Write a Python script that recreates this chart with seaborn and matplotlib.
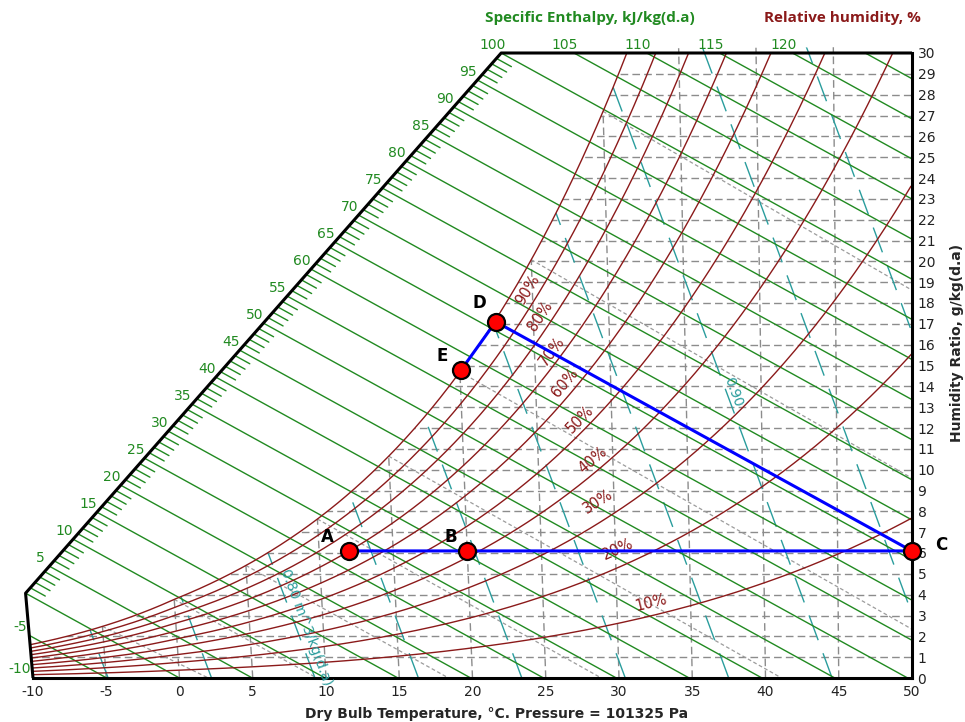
import numpy as np
import pandas as pd
import seaborn as sns
import matplotlib.pyplot as plt
from matplotlib.patches import Polygon

# chart data
pressure_kpa = 101.325
temp_ticks = list(range(-10, 51, 5))
w_ticks = list(range(0, 31))
rh_levels = [10, 20, 30, 40, 50, 60, 70, 80, 90, 100]
rh_labels = ['10%', '20%', '30%', '40%', '50%', '60%', '70%', '80%', '90%']
enthalpy_levels = list(range(-10, 126, 5))
enthalpy_top_labels = [100, 105, 110, 115, 120]
volume_levels = [0.76, 0.78, 0.80, 0.82, 0.84, 0.86, 0.88, 0.90, 0.92, 0.94]
wetbulb_levels = [-5, 0, 5, 10, 15, 20, 25, 30]
grid_temps = list(range(-5, 50, 5))
grid_w = list(range(1, 30))

state_names = ['A', 'B', 'C', 'D', 'E']
state_temp = [12.0, 20.0, 50.0, 22.5, 20.1]
state_w = [6.1, 6.1, 6.1, 17.1, 14.8]

GREEN = '#218a21'
RED = '#8b1a1a'
TEAL = '#2a9d9d'
GREY = '#8c8c8c'


def p_sat(t):
    t = np.asarray(t, float)
    water = 0.61121 * np.exp((18.678 - t / 234.5) * (t / (257.14 + t)))
    ice = 0.61115 * np.exp((23.036 - t / 333.7) * (t / (279.82 + t)))
    return np.where(t >= 0, water, ice)


def w_from_rh(t, rh):
    pw = rh / 100.0 * p_sat(t)
    return 622.0 * pw / (pressure_kpa - pw)


def chart_x(t, w):
    # dry bulb lines on this chart lean a little to the left
    return t + w * (2501 + 1.86 * t - 2597) / 1006.0


def h_line_x(h, w):
    return (h - 2.597 * w) / 1.006


def diag_point(h):
    w = 4.07 + 25.93 * h / 100.0
    return h_line_x(h, w), w


sns.set_style("white")
plt.rcParams['font.family'] = ['DejaVu Sans']
plt.rcParams['axes.unicode_minus'] = False

fig = plt.figure(figsize=(9.65, 7.22), dpi=100)
ax = fig.add_axes([33 / 965, 44 / 722, 879 / 965, 625 / 722])
ax.set_xlim(-10, 50)
ax.set_ylim(0, 30)

x0, w0 = diag_point(0)
x1, w1 = diag_point(100)
chart_clip = Polygon([(-10, 0), (50, 0), (50, 30), (x1, w1), (x0, w0)],
                     closed=True, transform=ax.transData)

t_sat = np.linspace(-10, 33, 800)
w_sat = w_from_rh(t_sat, 100)
keep = w_sat <= 30.3
sat_verts = [(-10, 0)] + list(zip(chart_x(t_sat[keep], w_sat[keep]), w_sat[keep]))
sat_verts += [(50, 30.3), (50, 0)]
sat_clip = Polygon(sat_verts, closed=True, transform=ax.transData)


def draw_family(rows, clip, **style):
    frame = pd.DataFrame(rows, columns=['x', 'w', 'level'])
    start = len(ax.lines)
    sns.lineplot(data=frame, x='x', y='w', units='level', estimator=None,
                 sort=False, ax=ax, legend=False, **style)
    for line in ax.lines[start:]:
        if clip is not None:
            line.set_clip_path(clip)
            line.set_clip_box(None)
        else:
            line.set_clip_on(False)


# grid under the saturation curve
rows = []
for t in grid_temps:
    ww = np.linspace(0, 31, 60)
    rows += [(xx, wv, 'T%d' % t) for xx, wv in zip(chart_x(t, ww), ww)]
for wv in grid_w:
    rows += [(-11, wv, 'W%d' % wv), (50, wv, 'W%d' % wv)]
draw_family(rows, sat_clip, color=GREY, linewidth=1.0, linestyle=(0, (5.5, 3)))

# wet bulb lines
rows = []
for twb in wetbulb_levels:
    ws = w_from_rh(twb, 100) / 1000.0
    tt = np.linspace(twb, twb + 90, 300)
    if twb >= 0:
        ww = ((2501 - 2.326 * twb) * ws - 1.006 * (tt - twb)) / (2501 + 1.86 * tt - 4.186 * twb)
    else:
        ww = ((2830 - 0.24 * twb) * ws - 1.006 * (tt - twb)) / (2830 + 1.86 * tt - 2.1 * twb)
    ww = ww * 1000
    ok = ww > -0.5
    rows += [(xx, wv, twb) for xx, wv in zip(chart_x(tt[ok], ww[ok]), ww[ok])]
draw_family(rows, sat_clip, color='#9c9c9c', linewidth=0.9, linestyle=(0, (3, 2)))

# specific volume lines
rows = []
for v in volume_levels:
    ww = np.linspace(0, 31, 120)
    tt = v * pressure_kpa / (0.287042 * (1 + 0.0016078 * ww)) - 273.15
    rows += [(xx, wv, v) for xx, wv in zip(chart_x(tt, ww), ww)]
draw_family(rows, sat_clip, color=TEAL, linewidth=1.0, linestyle=(0, (19, 10)))

# enthalpy lines
rows = []
for h in enthalpy_levels:
    rows += [(h_line_x(h, -1), -1, h), (h_line_x(h, 31), 31, h)]
draw_family(rows, chart_clip, color=GREEN, linewidth=1.0)

# relative humidity lines
t_rh = np.linspace(-10, 50, 900)
rows = []
for rh in rh_levels:
    ww = w_from_rh(t_rh, rh)
    rows += [(xx, wv, rh) for xx, wv in zip(chart_x(t_rh, ww), ww)]
draw_family(rows, chart_clip, color=RED, linewidth=1.0)

# enthalpy scale along the diagonal
rows = []
for h in range(1, 100):
    if h % 5:
        xd, wd = diag_point(h)
        rows += [(xd, wd, h), (xd + 1.02, wd - 0.396, h)]
draw_family(rows, None, color=GREEN, linewidth=1.0)

border = [(-10, 0), (x0, w0), (x1, w1), (50, 30)]
ax.plot([p[0] for p in border], [p[1] for p in border], color='black',
        linewidth=2.2, clip_on=False, solid_capstyle='butt', zorder=5)

for h in range(0, 100, 5):
    xd, wd = diag_point(h)
    ax.annotate(str(h), (xd, wd), xytext=(-9, 8), textcoords='offset pixels',
                ha='center', va='center', color=GREEN, fontsize=10)
for h in enthalpy_top_labels:
    ax.annotate(str(h), (h_line_x(h, 30), 30), xytext=(-9, 8),
                textcoords='offset pixels', ha='center', va='center',
                color=GREEN, fontsize=10, annotation_clip=False)
for h in [-5, -10]:
    wl = (h + 10.06) / 2.4734
    xl = -10 - 0.5 * wl / 4.07
    ax.annotate(str(h), (xl, wl), xytext=(-2, 8), textcoords='offset pixels',
                ha='right', va='center', color=GREEN, fontsize=10,
                annotation_clip=False)

# RH labels along the curves
rh_label_pos = [(32.2, 3.61), (29.93, 6.20), (28.57, 8.46), (28.22, 10.48),
                (27.33, 12.40), (26.31, 14.18), (25.43, 15.67), (24.61, 17.36),
                (23.79, 18.65)]
for rh, text, (lx, lw) in zip(rh_levels, rh_labels, rh_label_pos):
    ww = w_from_rh(t_rh, rh)
    pts = ax.transData.transform(np.column_stack([chart_x(t_rh, ww), ww]))
    lp = ax.transData.transform((lx, lw))
    i = int(np.argmin(np.hypot(pts[:, 0] - lp[0], pts[:, 1] - lp[1])))
    d = pts[min(i + 3, len(pts) - 1)] - pts[max(i - 3, 0)]
    ang = np.degrees(np.arctan2(d[1], d[0]))
    ax.text(lx, lw, text, color=RED, fontsize=10.5, rotation=ang,
            rotation_mode='anchor', ha='center', va='center')


def volume_angle(v):
    ww = np.array([0.0, 10.0])
    tt = v * pressure_kpa / (0.287042 * (1 + 0.0016078 * ww)) - 273.15
    pts = ax.transData.transform(np.column_stack([chart_x(tt, ww), ww]))
    d = pts[0] - pts[1]
    return np.degrees(np.arctan2(d[1], d[0]))


ax.text(7.2, 5.2, '0.80 m^3/kg(d.a)', color=TEAL, fontsize=10,
        rotation=volume_angle(0.80), rotation_mode='anchor', ha='left',
        va='center', clip_on=False)
ax.text(37.8, 13.75, '0.90', color=TEAL, fontsize=10,
        rotation=volume_angle(0.90), rotation_mode='anchor', ha='center',
        va='center')

# process path
sx = [chart_x(t, w) for t, w in zip(state_temp, state_w)]
path = pd.DataFrame({'x': sx, 'w': state_w, 'order': range(len(sx))})
sns.lineplot(data=path, x='x', y='w', sort=False, estimator=None, ax=ax,
             color='#0000ff', linewidth=2.2, legend=False, zorder=6)
sns.scatterplot(data=path, x='x', y='w', ax=ax, s=150, color='#ff0000',
                edgecolor='black', linewidth=1.6, zorder=7, clip_on=False,
                legend=False)
label_offsets = [(-21, 14), (-16, 14), (30, 6), (-16, 19), (-19, 14)]
for name, px, pw, off in zip(state_names, sx, state_w, label_offsets):
    ax.annotate(name, (px, pw), xytext=off, textcoords='offset pixels',
                ha='center', va='center', fontsize=12, fontweight='bold',
                color='black', annotation_clip=False)

# axes
for side in ['top', 'left']:
    ax.spines[side].set_visible(False)
for side in ['bottom', 'right']:
    ax.spines[side].set_linewidth(2.2)
    ax.spines[side].set_color('black')
ax.yaxis.tick_right()
ax.set_xticks(temp_ticks)
ax.set_xticklabels([str(t) for t in temp_ticks])
ax.set_yticks(w_ticks)
ax.set_yticklabels([str(w) for w in w_ticks])
ax.tick_params(axis='both', length=0, labelsize=10, colors='#222222')
ax.tick_params(axis='x', pad=5)
ax.tick_params(axis='y', pad=4)
ax.set_xlabel('')
ax.set_ylabel('')

fig.text(497 / 965, 1 - 714 / 722, 'Dry Bulb Temperature, °C. Pressure = 101325 Pa',
         ha='center', va='center', fontsize=10, fontweight='bold')
fig.text(957 / 965, 1 - 343 / 722, 'Humidity Ratio, g/kg(d.a)', rotation=90,
         ha='center', va='center', fontsize=10, fontweight='bold')
fig.text(590 / 965, 1 - 18 / 722, 'Specific Enthalpy, kJ/kg(d.a)', ha='center',
         va='center', fontsize=11, fontweight='bold', color=GREEN,
         family=['Open Sans', 'DejaVu Sans'])
fig.text(842 / 965, 1 - 18 / 722, 'Relative humidity, %', ha='center',
         va='center', fontsize=11, fontweight='bold', color=RED,
         family=['Open Sans', 'DejaVu Sans'])

fig.savefig('out.png', dpi=100)
